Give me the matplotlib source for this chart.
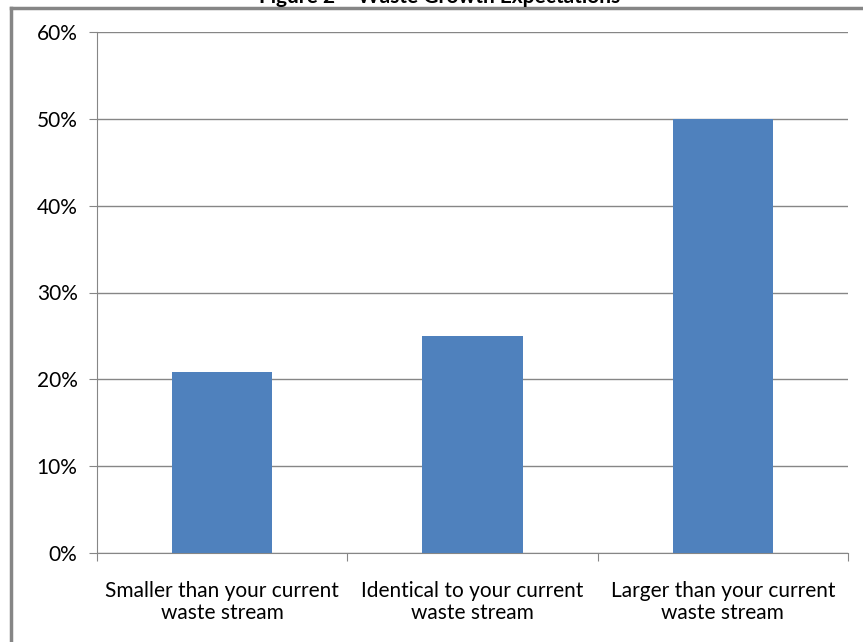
import matplotlib.pyplot as plt
from matplotlib.lines import Line2D
from matplotlib.ticker import FuncFormatter

categories = ["Smaller than your current\nwaste stream",
              "Identical to your current\nwaste stream",
              "Larger than your current\nwaste stream"]
values = [20.8, 25.0, 50.0]
y_ticks = [0, 10, 20, 30, 40, 50, 60]

W, H = 863, 642
fig = plt.figure(figsize=(W / 100, H / 100), dpi=100)
plt.rcParams['font.family'] = ['Lato', 'DejaVu Sans']

# plot area in pixel coords: left 97, right 848, top 32, bottom 553
ax = fig.add_axes([97 / W, 1 - 553 / H, (848 - 97) / W, (553 - 32) / H])

gray = '#868686'
xpos = [i + 0.5 for i in range(len(categories))]
ax.bar(xpos, values, width=0.4, color='#4f81bd', zorder=3)

ax.set_xlim(0, 3)
ax.set_ylim(0, 60)
ax.set_yticks(y_ticks)
ax.yaxis.set_major_formatter(FuncFormatter(lambda v, p: f"{int(v)}%"))
ax.grid(axis='y', color=gray, linewidth=1, zorder=0)

ax.set_xticks([0, 1, 2, 3])
ax.set_xticklabels([])
ax.set_xticks(xpos, minor=True)
ax.set_xticklabels(categories, minor=True, fontsize=15, linespacing=1.15)
ax.tick_params(axis='x', which='major', direction='out', length=6, color=gray)
ax.tick_params(axis='x', which='minor', length=0, pad=20)
ax.tick_params(axis='y', direction='out', length=6, color=gray, labelsize=15, pad=8)

for s in ['top', 'right']:
    ax.spines[s].set_visible(False)
for s in ['left', 'bottom']:
    ax.spines[s].set_color(gray)

# outer chart frame (partially cropped)
fig.add_artist(Line2D([11 / W, 1], [1 - 8 / H, 1 - 8 / H], color=gray, lw=2.5, transform=fig.transFigure))
fig.add_artist(Line2D([11 / W, 11 / W], [0, 1 - 8 / H], color=gray, lw=2.5, transform=fig.transFigure))

# title cropped at top edge, as in the source
fig.text(440 / W, 1 - 3 / H, "Figure 2 \u2013 Waste Growth Expectations",
         ha='center', va='baseline', fontsize=15, fontweight='bold')

fig.savefig('out.png', dpi=100)
